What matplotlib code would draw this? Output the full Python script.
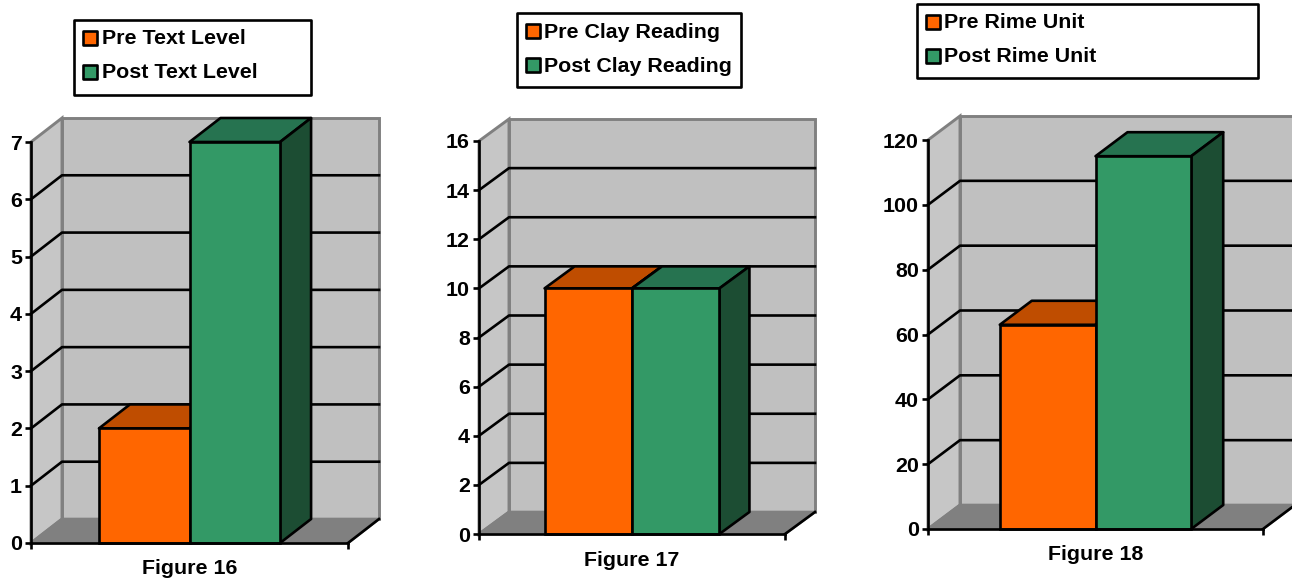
import matplotlib
matplotlib.use("Agg")
import matplotlib.pyplot as plt
from matplotlib.patches import Polygon, Rectangle

plt.rcParams['font.family'] = ['Liberation Sans', 'DejaVu Sans']
plt.rcParams['font.weight'] = 'bold'

W, H = 1292, 578
DPI = 100

# data
figure_names = ["Figure 16", "Figure 17", "Figure 18"]
pre_labels = ["Pre Text Level", "Pre Clay Reading", "Pre Rime Unit"]
post_labels = ["Post Text Level", "Post Clay Reading", "Post Rime Unit"]
pre_values = [2, 10, 63]
post_values = [7, 10, 115]
axis_max = [7, 16, 120]
tick_step = [1, 2, 20]

# layout in pixels: front plane (left, right, y of 0, y of max), depth (dx, dy)
fronts = [(31, 348, 543, 142), (479, 785, 534, 141), (928, 1263, 529, 140)]
depths = [(31, 24), (30, 22), (32, 24)]
# legend box: left, top, right, bottom
legend_boxes = [(74, 20, 311, 95), (517, 13, 741, 87), (917, 4, 1258, 78)]

ORANGE = ('#FF6600', '#BF4D00', '#7F3300')
GREEN = ('#339966', '#267350', '#1C4D33')
WALL = '#C0C0C0'
SIDE_WALL = '#C6C6C6'
FLOOR = '#808080'
FS = 15.4
LW = 1.9
GAP = 1.5   # gap width, in bar widths

fig = plt.figure(figsize=(W / DPI, H / DPI), dpi=DPI)


def draw_bar(ax, left, width, value, ddx, ddy, colors):
    ax.bar(left, value, width, align='edge', color=colors[0], edgecolor='black',
           linewidth=LW, zorder=6, clip_on=False)
    right = left + width
    top = [(left, value), (right, value), (right + ddx, value + ddy), (left + ddx, value + ddy)]
    side = [(right, 0), (right + ddx, ddy), (right + ddx, value + ddy), (right, value)]
    ax.add_patch(Polygon(top, facecolor=colors[1], edgecolor='black', linewidth=LW,
                         joinstyle='round', zorder=5, clip_on=False))
    ax.add_patch(Polygon(side, facecolor=colors[2], edgecolor='black', linewidth=LW,
                         joinstyle='round', zorder=5, clip_on=False))


for i in range(3):
    x0, x1, y0, y1 = fronts[i]
    ax = fig.add_axes([x0 / W, 1 - y0 / H, (x1 - x0) / W, (y0 - y1) / H])
    ymax = axis_max[i]
    ax.set_xlim(0, 1)
    ax.set_ylim(0, ymax)
    ax.patch.set_visible(False)

    # depth converted to data units
    ddx = depths[i][0] / (x1 - x0)
    ddy = depths[i][1] * ymax / (y0 - y1)

    # walls and floor
    ax.add_patch(Polygon([(ddx, ddy), (1 + ddx, ddy), (1 + ddx, ymax + ddy), (ddx, ymax + ddy)],
                         facecolor=WALL, edgecolor=FLOOR, linewidth=2.1, zorder=1, clip_on=False))
    ax.add_patch(Polygon([(0, 0), (ddx, ddy), (ddx, ymax + ddy), (0, ymax)],
                         facecolor=SIDE_WALL, edgecolor=FLOOR, linewidth=2.1, zorder=1, clip_on=False))
    ax.add_patch(Polygon([(0, 0), (1, 0), (1 + ddx, ddy), (ddx, ddy)],
                         facecolor=FLOOR, edgecolor=FLOOR, linewidth=LW, zorder=2, clip_on=False))

    # grid lines go across the side wall then along the back wall
    ticks = list(range(0, ymax + 1, tick_step[i]))
    for t in ticks[1:-1]:
        ax.plot([0, ddx, 1 + ddx], [t, t + ddy, t + ddy], color='black', linewidth=LW,
                solid_joinstyle='round', zorder=3, clip_on=False)
    ax.plot([1, 1 + ddx], [0, ddy], color='black', linewidth=LW, zorder=3, clip_on=False)

    width = 1 / (2 + GAP)
    start = 0.5 - width
    draw_bar(ax, start, width, pre_values[i], ddx, ddy, ORANGE)
    draw_bar(ax, start + width, width, post_values[i], ddx, ddy, GREEN)

    ax.set_yticks(ticks)
    ax.set_xticks([0, 1])
    ax.set_xticklabels([])
    ax.tick_params(axis='both', length=4, width=LW, color='black', pad=2.5, labelsize=FS)
    for name in ['top', 'right']:
        ax.spines[name].set_visible(False)
    for name in ['left', 'bottom']:
        ax.spines[name].set_linewidth(LW)
        ax.spines[name].set_zorder(7)
    ax.annotate(figure_names[i], (0.5, 0), xytext=(0, -26), textcoords='offset pixels',
                ha='center', va='center', fontsize=FS, fontweight='bold',
                annotation_clip=False)

# legends are boxes on a full figure overlay in pixel units
over = fig.add_axes([0, 0, 1, 1])
over.set_xlim(0, W)
over.set_ylim(H, 0)
over.axis('off')
for i in range(3):
    left, top, right, bottom = legend_boxes[i]
    over.add_patch(Rectangle((left, top), right - left, bottom - top, facecolor='white',
                             edgecolor='black', linewidth=LW, joinstyle='round'))
    rows = [(pre_labels[i], ORANGE[0], top + 18), (post_labels[i], GREEN[0], top + 52)]
    for label, color, yc in rows:
        over.add_patch(Rectangle((left + 8.5, yc - 7), 14, 14, facecolor=color,
                                 edgecolor='black', linewidth=LW, joinstyle='round'))
        over.text(left + 27.5, yc + 1, label, fontsize=FS, fontweight='bold',
                  ha='left', va='center')

fig.savefig("out.png", dpi=DPI)
